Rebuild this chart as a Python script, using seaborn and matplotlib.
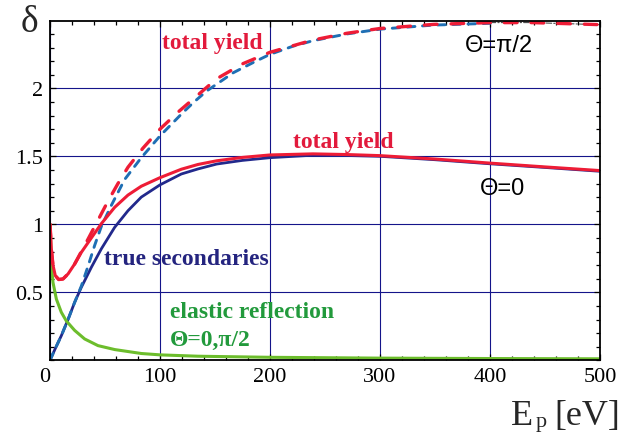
import matplotlib
matplotlib.use('Agg')
import matplotlib.pyplot as plt
import matplotlib.ticker as mticker
import numpy as np
import pandas as pd
import seaborn as sns

# ---------------- data ----------------
# true secondaries, Theta = 0 (solid navy)
x_true0 = [0, 5, 10.3, 16.4, 22.4, 28.5, 37.6, 46.7, 58.8, 70.9, 83, 100, 119.4, 134.5, 151.5,
           175, 200, 239, 270, 300, 350, 400, 450, 500]
y_true0 = [0, 0.09, 0.181, 0.30, 0.426, 0.537, 0.684, 0.82, 0.978, 1.10, 1.20, 1.29, 1.37,
           1.407, 1.443, 1.47, 1.49, 1.508, 1.506, 1.50, 1.475, 1.445, 1.418, 1.39]

# total yield, Theta = 0 (solid red)
x_tot0 = [0, 0.6, 1.2, 2.7, 4.8, 7.9, 11.8, 16.4, 22.4, 28.5, 37.6, 46.7, 58.8, 70.9, 83, 100,
          119.4, 134.5, 151.5, 175, 200, 239, 270, 300, 350, 400, 450, 500]
y_tot0 = [1.0, 0.92, 0.82, 0.70, 0.623, 0.594, 0.598, 0.635, 0.708, 0.794, 0.90, 1.005, 1.125,
          1.215, 1.28, 1.343, 1.405, 1.44, 1.467, 1.492, 1.51, 1.518, 1.513, 1.505, 1.48, 1.45,
          1.422, 1.395]

# elastic reflection, Theta = 0, pi/2 (green)
x_el = [0, 0.6, 1.2, 2.7, 5.8, 10.3, 14.8, 22.4, 31.5, 43.6, 58.8, 83, 100, 134.5, 200, 300,
        400, 500]
y_el = [1.0, 0.89, 0.70, 0.573, 0.45, 0.353, 0.29, 0.22, 0.157, 0.108, 0.079, 0.05, 0.04, 0.03,
        0.022, 0.016, 0.013, 0.011]

# true secondaries, Theta = pi/2 (dashed blue)
x_true90 = [0, 5, 10.3, 16.4, 22.4, 28.5, 34.5, 40.6, 46.7, 55.8, 67.9, 83, 100, 120, 130.3,
            142.4, 166.7, 184.8, 200, 221, 239, 270, 300, 348.5, 400, 439, 500]
y_true90 = [0, 0.09, 0.181, 0.30, 0.426, 0.546, 0.69, 0.845, 0.985, 1.14, 1.33, 1.49, 1.65,
            1.815, 1.895, 1.98, 2.115, 2.19, 2.25, 2.31, 2.35, 2.40, 2.435, 2.465, 2.478,
            2.478, 2.465]

# total yield, Theta = pi/2 (dashed red)
x_tot90 = [0, 0.6, 1.2, 2.7, 4.8, 7.9, 11.8, 16.4, 22.4, 28.5, 34.5, 43.6, 52.7, 61.8, 70.9,
           84.5, 100, 116.4, 130, 151.5, 175, 200, 239, 270, 300, 348.5, 400, 439, 500]
y_tot90 = [1.0, 0.92, 0.82, 0.70, 0.623, 0.594, 0.598, 0.635, 0.708, 0.80, 0.89, 1.03, 1.17,
           1.30, 1.42, 1.56, 1.70, 1.825, 1.92, 2.07, 2.18, 2.265, 2.355, 2.405, 2.44, 2.47,
           2.483, 2.483, 2.468]

x_ticks = [0, 100, 200, 300, 400, 500]
x_ticklabels = ['0', '100', '200', '300', '400', '500']
y_ticks = [0.5, 1.0, 1.5, 2.0]
y_ticklabels = ['0.5', '1', '1.5', '2']

# ---------------- style ----------------
sns.set_style('ticks')
SERIF = ['Liberation Serif', 'DejaVu Serif']
SANS = ['Liberation Sans', 'DejaVu Sans']
plt.rcParams['font.family'] = SERIF

RED = '#ee1c36'
RED_TXT = '#e21a3c'
NAVY = '#22298c'
NAVY_TXT = '#24247f'
BLUE_D = '#1f6fb4'
GREEN = '#6cbd2c'
GREEN_TXT = '#229a3c'
GRID = '#14148a'

W, H = 632, 435
fig = plt.figure(figsize=(W / 100, H / 100), dpi=100)
ax = fig.add_axes([50 / W, 1 - 361.3 / H, 550 / W, (361.3 - 22) / H])

df_true0 = pd.DataFrame({'E': x_true0, 'd': y_true0})
df_tot0 = pd.DataFrame({'E': x_tot0, 'd': y_tot0})
df_el = pd.DataFrame({'E': x_el, 'd': y_el})
df_true90 = pd.DataFrame({'E': x_true90, 'd': y_true90})
df_tot90 = pd.DataFrame({'E': x_tot90, 'd': y_tot90})

def draw(df, color, lw, z, dashes=None):
    sns.lineplot(data=df, x='E', y='d', ax=ax, color=color, lw=lw, estimator=None,
                 zorder=z, solid_capstyle='round', solid_joinstyle='round')
    ln = ax.lines[-1]
    if dashes is not None:
        ln.set_dashes(dashes)
        ln.set_dash_capstyle('round')
    return ln

# thin dash-dot trace visible at the far right under the dashed curves
draw(df_tot90[df_tot90['E'] >= 380], '#333333', 0.7, 2, dashes=(6, 2, 1.5, 2))
draw(df_true0, NAVY, 2.0, 3)
draw(df_true90[df_true90['E'] <= 420], BLUE_D, 2.1, 3, dashes=(2.6, 2.6))
draw(df_el, GREEN, 2.2, 4)
draw(df_tot0, RED, 2.2, 5)
draw(df_tot90, RED, 2.4, 5, dashes=(3.8, 4.2))

ax.set_xlim(0, 500)
ax.set_ylim(0, 2.495)
ax.set_xticks(x_ticks)
ax.set_xticklabels(x_ticklabels, fontfamily=SERIF, fontsize=16)
ax.set_yticks(y_ticks)
ax.set_yticklabels(y_ticklabels, fontfamily=SERIF, fontsize=16)
ax.xaxis.set_minor_locator(mticker.MultipleLocator(20))
ax.yaxis.set_minor_locator(mticker.MultipleLocator(0.1))
ax.tick_params(which='both', direction='in', top=True, right=True, colors='black', width=0.9)
ax.tick_params(which='major', length=4)
ax.tick_params(which='minor', length=3)
ax.tick_params(axis='x', pad=4.5)
ax.tick_params(axis='y', pad=5)
ax.get_xticklabels()[0].set_ha('right')
ax.grid(True, which='major', color=GRID, lw=0.8)
ax.set_axisbelow(True)
for s in ax.spines.values():
    s.set_visible(True)
    s.set_linewidth(1.3)
    s.set_color('black')
    s.set_zorder(6)
ax.set_xlabel('')
ax.set_ylabel('')

# ---------------- annotations ----------------
lab = dict(fontweight='bold', fontsize=17, fontfamily=SERIF)
ax.text(147.3, 2.294, 'total yield', color=RED_TXT, ha='center', va='baseline', **lab)
ax.text(266.8, 1.566, 'total yield', color=RED_TXT, ha='center', va='baseline', **lab)
ax.text(124.2, 0.708, 'true secondaries', color=NAVY_TXT, ha='center', va='baseline', **lab)
ax.text(109, 0.316, 'elastic reflection', color=GREEN_TXT, ha='left', va='baseline', **lab)
ax.text(109, 0.115, 'Θ=0,π/2', color=GREEN_TXT, ha='left', va='baseline', **lab)
ax.text(377.3, 2.277, 'Θ=π/2', color='black', ha='left', va='baseline', fontsize=17,
        fontfamily=SANS)
ax.text(391, 1.223, 'Θ=0', color='black', ha='left', va='baseline', fontsize=17,
        fontfamily=SANS)

fig.text(29.5 / W, 1 - 32 / H, 'δ', fontsize=27, ha='center', va='baseline', fontfamily=SERIF)
# axis title  E_p [eV]
fig.text(511 / W, 1 - 425 / H, 'E', fontsize=26, ha='left', va='baseline', fontfamily=SERIF)
fig.text(536 / W, 1 - 427 / H, 'p', fontsize=16, ha='left', va='baseline', fontfamily=SERIF)
fig.text(620 / W, 1 - 425 / H, '[eV]', fontsize=26, ha='right', va='baseline', fontfamily=SERIF)

fig.savefig('out.png', dpi=100)
